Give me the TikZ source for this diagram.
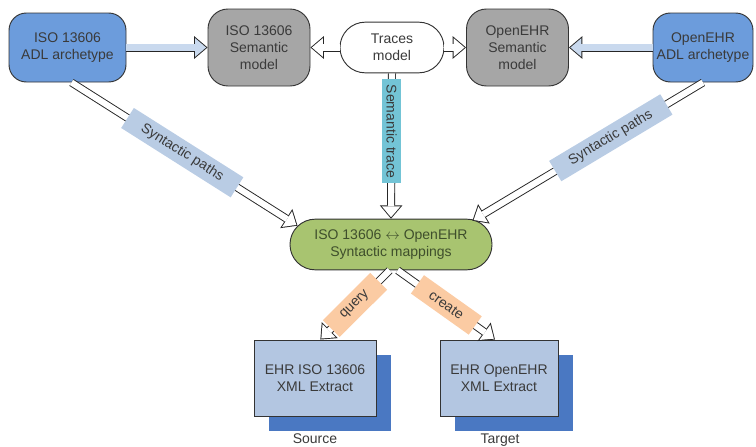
\documentclass[tikz,border=0pt]{standalone}
\usepackage{fontspec}
\setmainfont{Liberation Sans}
\usetikzlibrary{arrows.meta,shadows}
\definecolor{adlblue}{HTML}{6C9CDC}
\definecolor{semgray}{HTML}{A6A6A6}
\definecolor{mapgreen}{HTML}{A8C470}
\definecolor{pathblue}{HTML}{B9CCE4}
\definecolor{tracecyan}{HTML}{73C4D6}
\definecolor{actorange}{HTML}{FBCBA3}
\definecolor{extractblue}{HTML}{B3C6E1}
\definecolor{shadowblue}{HTML}{4A78C2}
\definecolor{arrowfill}{HTML}{C9D9EE}
\definecolor{textdark}{HTML}{3A3A3A}
\definecolor{textolive}{HTML}{3F4F2C}

\begin{document}
\begin{tikzpicture}[x=0.75pt, y=-0.75pt,
    every node/.style={font=\fontsize{10.5}{12.7}\selectfont, text=textdark, align=center},
    adlbox/.style={rounded corners=13pt, fill=adlblue, draw=black!80, line width=0.7pt,
                 minimum width=87.75pt, minimum height=51.75pt, inner sep=1pt},
    sembox/.style={rounded corners=15pt, fill=semgray, draw=black!80, line width=0.7pt,
                 minimum width=76.5pt, minimum height=57.75pt, inner sep=1pt},
    pillbox/.style={rounded corners=18.9pt, draw=black!80, line width=0.7pt,
                 minimum height=38pt, inner sep=1pt},
    extractbox/.style={fill=extractblue, draw=black!80, line width=0.7pt,
                 minimum width=91.5pt, minimum height=57pt,
                 drop shadow={shadow xshift=11.25pt, shadow yshift=-11.25pt,
                              fill=shadowblue, opacity=1}},
    flow/.style={line cap=butt,
                 preaction={draw=black!85, line width=6pt, shorten >=0pt,
                            -{Triangle[length=10pt, width=17pt, line width=0pt]}},
                 draw=#1, line width=4.6pt, shorten >=1.08pt,
                 -{Triangle[length=8.2pt, width=13.9pt, line width=0pt]}},
    flow/.default=white,
    pathlabel/.style={fill=pathblue, sloped, inner xsep=13pt, inner ysep=4pt},
    actlabel/.style={fill=actorange, sloped, inner xsep=12pt, inner ysep=5pt},
  ]
  \useasboundingbox (0,0) rectangle (756,446);

  % top row
  \node[adlbox] (isoadl) at (67.5,47.5) {ISO 13606\\ADL archetype};
  \node[sembox] (isosem) at (259,47.5) {ISO 13606\\Semantic\\model};
  \node[pillbox, fill=white, minimum width=78pt] (traces) at (392,47.5) {Traces\\model};
  \node[sembox] (ehrsem) at (517.5,47.5) {OpenEHR\\Semantic\\model};
  \node[adlbox, minimum width=75pt] (ehradl) at (703,47.5) {OpenEHR\\ADL archetype};

  % mappings
  \node[pillbox, fill=mapgreen, minimum width=151.5pt, text=textolive] (mapping) at (391,244.5)
    {ISO 13606 $\leftrightarrow$ OpenEHR\\Syntactic mappings};

  % extracts
  \node[extractbox] (isoxml) at (315,378) {EHR ISO 13606\\XML Extract};
  \node[extractbox, minimum width=88.5pt] (ehrxml) at (499,378) {EHR OpenEHR\\XML Extract};
  \node (source) at (315,439) {Source};
  \node (target) at (500,440) {Target};

  % arrows
  \draw[flow=arrowfill] (isoadl.east) -- (isosem.west);
  \draw[flow=arrowfill] (ehradl.west) -- (ehrsem.east);
  \draw[flow] (traces.west) -- (isosem.east);
  \draw[flow] (traces.east) -- (ehrsem.west);
  \draw[flow] (traces.south) -- (mapping.north)
    node[pos=0.4, fill=tracecyan, rotate=-90, inner xsep=4pt, inner ysep=3pt] (semtrace) {Semantic trace};
  \draw[flow] ([xshift=3pt]isoadl.south) -- ([shift={(8,7)}]mapping.north west)
    node[pathlabel, pos=0.49] (pathleft) {Syntactic paths};
  \draw[flow] (ehradl.south) -- ([shift={(-20,2)}]mapping.north east)
    node[pathlabel, pos=0.4] (pathright) {Syntactic paths};
  \draw[flow] ([xshift=-1pt]mapping.south) -- ([xshift=4pt]isoxml.north)
    node[actlabel, pos=0.5] (query) {query};
  \draw[flow] ([xshift=5pt]mapping.south) -- ([xshift=-3pt]ehrxml.north)
    node[actlabel, pos=0.5] (create) {create};
\end{tikzpicture}
\end{document}
